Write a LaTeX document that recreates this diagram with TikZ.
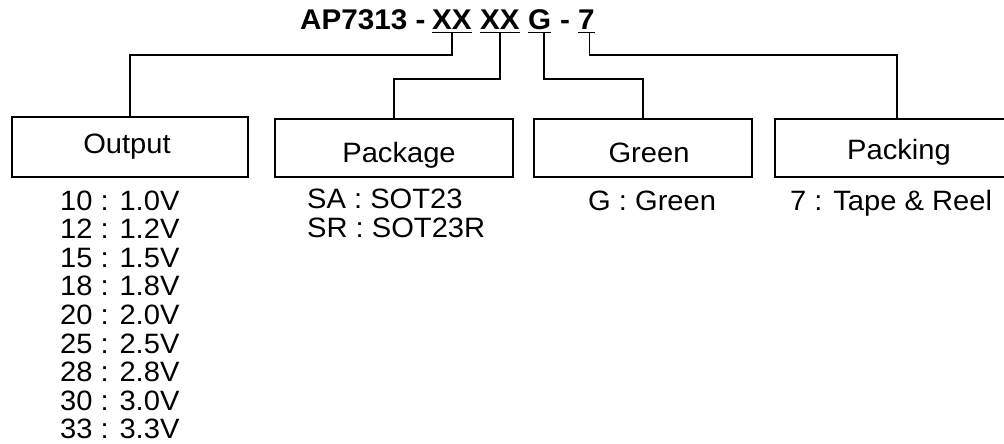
\documentclass[tikz,border=0pt]{standalone}
\usepackage{fontspec}
\setmainfont{Liberation Sans}[FakeStretch=1.04]
\begin{document}
\begin{tikzpicture}[x=1pt,y=1pt,
  box/.style={draw, line width=1.7pt, rectangle, inner sep=0pt},
  lbl/.style={font=\fontsize{28}{30}\selectfont, inner sep=0pt, anchor=base},
  item/.style={font=\fontsize{28}{30}\selectfont, inner sep=0pt, anchor=base west},
  ttl/.style={font=\fontsize{28.5}{30}\selectfont\bfseries, inner sep=0pt, anchor=base west},
  conn/.style={line width=1.7pt},
  uline/.style={line width=1.4pt}]
\useasboundingbox (0,0) rectangle (1004,-444);
\clip (0,0) rectangle (1004,-444);
% title
\node[ttl] (pre) at (300,-30) {AP7313 -};
\node[ttl] (xa) at (432,-30) {XX};
\node[ttl] (xb) at (480,-30) {XX};
\node[ttl] (gg) at (528,-30) {G};
\node[ttl, anchor=base] (dash) at (565,-30) {-};
\node[ttl] (sv) at (578,-30) {7};
\foreach \n in {xa,xb,gg,sv}
  \draw[uline] ([yshift=-2.5pt]\n.base west) -- ([yshift=-2.5pt]\n.base east);
% boxes
\node[box, minimum width=236pt, minimum height=60pt] (outbox) at (130,-147) {};
\node[box, minimum width=238pt, minimum height=58pt] (pkgbox) at (394,-148) {};
\node[box, minimum width=218pt, minimum height=58pt] (grnbox) at (643,-148) {};
\node[box, minimum width=244pt, minimum height=58pt] (pckbox) at (897,-148) {};
% box labels
\node[lbl] (outlbl) at (127,-153) {Output};
\node[lbl] (pkglbl) at (399,-162) {Package};
\node[lbl] (grnlbl) at (649,-162) {Green};
\node[lbl] (pcklbl) at (899,-159) {Packing};
% connectors
\draw[conn] ([yshift=-2.5pt]xa.base) -- ++(0,-22.5) -| (outbox.north);
\draw[conn] ([yshift=-2.5pt]xb.base) -- ++(0,-46.5) -| (pkgbox.north);
\draw[conn] ([xshift=4pt,yshift=-2.5pt]gg.base) -- ++(0,-46.5) -| (grnbox.north);
\draw[conn] ([xshift=3pt,yshift=-2.5pt]sv.base) -- ++(0,-22.5) -| (pckbox.north);
% lists
\foreach \va/\vb [count=\i] in {10/1.0,12/1.2,15/1.5,18/1.8,20/2.0,25/2.5,28/2.8,30/3.0,33/3.3}
  \node[item] (o\i) at (60,{-210-28.6*(\i-1)}) {\va{} : \vb{}V};
\node[item] (pa) at (307,-208) {SA : SOT23};
\node[item] (pb) at (307,-237) {SR : SOT23R};
\node[item] (ga) at (588,-210) {G : Green};
\node[item] (ka) at (790,-210) {7 : Tape \& Reel};
\end{tikzpicture}
\end{document}
